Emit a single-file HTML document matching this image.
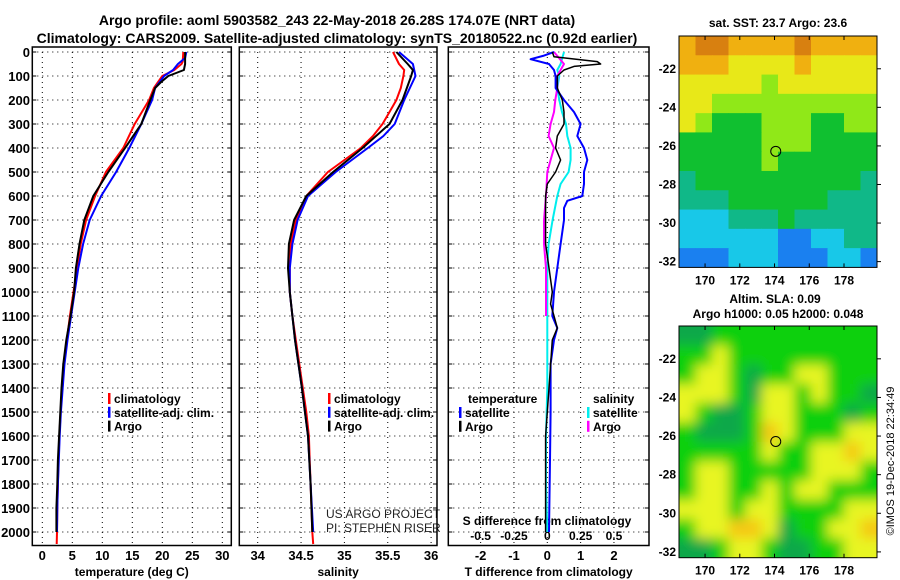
<!DOCTYPE html>
<html><head><meta charset="utf-8"><style>
html,body{margin:0;padding:0;background:#fff;}
svg{display:block;font-family:"Liberation Sans",sans-serif;}
</style></head><body>
<svg id="c" width="900" height="580" viewBox="0 0 900 580">
<defs>
<filter id="blurf" filterUnits="userSpaceOnUse" x="660" y="300" width="240" height="280"><feGaussianBlur stdDeviation="6"/></filter>
</defs>
<text x="337" y="25" text-anchor="middle" font-size="14" font-weight="bold">Argo profile: aoml 5903582_243 22-May-2018 26.28S 174.07E (NRT data)</text>
<text x="337" y="43" text-anchor="middle" font-size="14" font-weight="bold">Climatology: CARS2009. Satellite-adjusted climatology: synTS_20180522.nc (0.92d earlier)</text>
<text x="778" y="27" text-anchor="middle" font-size="12" font-weight="bold">sat. SST: 23.7 Argo: 23.6</text>
<text x="775" y="303" text-anchor="middle" font-size="12" font-weight="bold">Altim. SLA: 0.09</text>
<text x="778" y="318" text-anchor="middle" font-size="12" font-weight="bold">Argo h1000: 0.05 h2000: 0.048</text>
<text transform="translate(894,461) rotate(-90)" text-anchor="middle" font-size="11">©IMOS 19-Dec-2018 22:34:49</text>
<text x="326" y="518" font-size="12" fill="#222">US ARGO PROJECT</text>
<text x="326" y="532" font-size="12" fill="#222">PI: STEPHEN RISER</text>
</svg>
<script>
const depthTicks=[0,100,200,300,400,500,600,700,800,900,1000,1100,1200,1300,1400,1500,1600,1700,1800,1900,2000];
const tempTicks=[0,5,10,15,20,25,30];
const salTicks=[34,34.5,35,35.5,36];
const diffTTicks=[-2,-1,0,1,2];
const diffSTicks=[-0.5,-0.25,0,0.25,0.5];
const diffSTickLabels=["-0.5","-0.25","0","0.25","0.5"];
// temperature profiles
const tClimD=[0,40,50,75,100,150,200,300,400,500,600,700,800,900,1000,1100,1200,1300,1400,1500,1600,1700,1800,1900,2000,2050];
const tClimV=[23.5,23.4,23.2,22,20,18.6,17.8,15.4,13.5,10.6,8.8,7.3,6.4,5.8,5.2,4.6,4.1,3.6,3.3,3.05,2.85,2.7,2.6,2.5,2.45,2.4];
const tSatD=[0,25,50,75,100,150,200,300,400,500,600,700,800,900,1000,1100,1200,1300,1400,1500,1600,1700,1800,1900,2000];
const tSatV=[24,23.8,22.6,21.8,20.3,18.8,18.3,16.5,14.5,12.3,9.8,7.9,6.8,6.0,5.4,4.8,4.2,3.7,3.4,3.1,2.9,2.75,2.6,2.5,2.45];
const tArgoD=[0,25,50,75,100,125,150,200,300,400,500,600,700,800,900,1000,1100,1200,1300,1400,1500,1600,1700,1800,1900,2000];
const tArgoV=[23.8,23.8,23.8,23.6,21,19.8,18.8,18,16.5,13.8,11,8.5,7.0,6.2,5.6,5.3,4.7,4.0,3.5,3.2,3.0,2.8,2.6,2.5,2.35,2.35];
// salinity profiles
const sClimD=[0,50,75,100,150,200,250,300,350,400,500,600,700,800,900,1000,1100,1200,1300,1400,1500,1600,1700,1800,1900,2000,2050];
const sClimV=[35.56,35.63,35.69,35.68,35.65,35.6,35.52,35.44,35.33,35.19,34.81,34.56,34.44,34.38,34.37,34.37,34.4,34.44,34.48,34.52,34.56,34.59,34.6,34.61,34.62,34.63,34.64];
const sSatD=[0,25,50,100,200,300,350,400,500,600,700,800,900,1000,1200,1400,1600,1800,2000];
const sSatV=[35.63,35.71,35.79,35.82,35.69,35.58,35.45,35.27,34.9,34.58,34.46,34.4,34.37,34.37,34.43,34.51,34.58,34.61,34.64];
const sArgoD=[0,50,75,100,200,300,400,500,600,700,800,900,1000,1200,1400,1600,1800,2000];
const sArgoV=[35.6,35.73,35.79,35.77,35.67,35.52,35.21,34.87,34.56,34.42,34.36,34.35,34.37,34.43,34.51,34.58,34.61,34.63];
// difference profiles
const dTSatD=[0,15,30,50,75,100,150,200,250,300,350,400,450,500,550,600,620,650,700,800,900,1000,1100,1150,1200,1300,1500,1700,2000];
const dTSatV=[0.2,-0.1,-0.5,0.05,0.2,0.25,0.25,0.5,0.8,1.0,0.9,1.1,1.2,1.1,1.1,1.05,0.6,0.5,0.5,0.4,0.3,0.2,0.15,0.3,0.2,0.1,0.1,0.08,0.05];
const dTArgoD=[0,20,40,50,60,75,100,150,200,250,300,350,400,450,500,550,600,700,800,900,1000,1050,1100,1150,1200,1400,1600,1800,2000];
const dTArgoV=[0.15,0.2,1.5,1.6,0.8,0.5,0.3,0.3,0.45,0.5,0.5,0.3,0.25,0.4,0.25,0,-0.05,-0.05,-0.05,0.05,0.15,0.1,0.2,0.3,0.15,0.05,-0.05,-0.05,-0.05];
const dSSatD=[0,50,75,100,150,200,250,300,350,400,450,500,550,600,700,800,900,1000,1200,1400,1600,1800,2000];
const dSSatV=[0.125,0.1,0.075,0.09,0.075,0.09,0.11,0.14,0.15,0.175,0.175,0.16,0.1,0.075,0.04,0.01,0,0,0,0,-0.01,-0.01,0];
const dSArgoD=[0,50,75,100,150,200,250,300,350,400,450,500,600,700,800,900,1000,1100];
const dSArgoV=[0.05,0.125,0.1,0.075,0.075,0.06,0.05,0.025,0.01,0.05,0.025,0,-0.01,-0.025,-0.025,-0.01,-0.01,-0.01];
// maps
const lonTicks=[170,172,174,176,178];
const latTicks=[-22,-24,-26,-28,-30,-32];
const sstGrid=[
[7,8,8,7,7,7,7,8,7,7,7,7],
[7,7,7,6,6,6,6,7,6,6,6,6],
[6,6,6,6,6,5,6,6,6,6,6,6],
[6,6,5,5,5,5,5,5,5,5,5,5],
[6,5,4,4,4,5,5,5,4,4,5,5],
[4,4,4,4,4,5,5,5,4,4,4,4],
[4,4,4,4,4,5,4,4,4,4,4,4],
[3,4,4,4,4,4,4,4,4,4,4,3],
[3,3,3,4,4,4,4,4,4,3,3,3],
[2,2,2,3,3,3,4,3,3,3,3,3],
[2,2,2,2,2,2,1,1,2,2,3,3],
[1,1,1,2,2,2,1,1,1,2,2,1]];
const slaGrid=[
[-1,-1,0,0,0,0,0,0,0,0,0,0],
[0,0,1,0,0,0,0,0,0,0,0,0],
[0,1,1,0,-1,0,0,1,1,0,0,0],
[1,1,1,0,-1,1,1,0,1,0,0,-1],
[1,0,-1,-1,0,1,1,0,0,0,-1,0],
[0,-1,-1,-1,0,2,1,0,0,0,1,1],
[0,0,0,0,0,1,0,0,1,1,2,1],
[0,1,1,0,0,0,0,0,1,1,1,0],
[0,1,1,0,0,1,0,1,1,0,0,0],
[1,1,1,0,1,1,0,0,0,0,1,1],
[0,1,1,2,2,1,-1,0,0,1,1,2],
[-1,-1,0,1,1,0,-1,-1,0,0,1,1]];
const argoLon=174.07, argoLat=-26.28;

const svg=document.getElementById('c');
const NS='http://www.w3.org/2000/svg';
function mk(tag,attrs,parent){const e=document.createElementNS(NS,tag);for(const k in attrs)e.setAttribute(k,attrs[k]);(parent||svg).appendChild(e);return e;}
const y0=52, yPer=0.24;
const yD=d=>y0+d*yPer;
const PB=545.5;

function panel(name,L,R,xs,ticks,labels,xlabel){
  const g=mk('g',{});
  
  
  depthTicks.forEach(d=>{
    const gl=mk('line',{x1:L,x2:R,y1:yD(d),y2:yD(d),stroke:'#000','stroke-width':1,'stroke-dasharray':'1,4'},g);
    
    
    mk('line',{x1:L,x2:L+4,y1:yD(d),y2:yD(d),stroke:'#000'},g);
    mk('line',{x1:R-4,x2:R,y1:yD(d),y2:yD(d),stroke:'#000'},g);
  });
  ticks.forEach((t,i)=>{
    const x=xs(t);
    const gl=mk('line',{x1:x,x2:x,y1:52,y2:PB,stroke:'#000','stroke-width':1,'stroke-dasharray':'1,4'},g);
    
    
    const tl=mk('text',{x:x,y:560,'text-anchor':'middle','font-size':13,'font-weight':'bold'},g);
    tl.textContent=labels[i];
    
    
  });
  const xl=mk('text',{x:(L+R)/2,y:576,'text-anchor':'middle','font-size':12,'font-weight':'bold'},g);
  xl.textContent=xlabel;
  
  
  const fr=mk('rect',{x:L,y:47,width:R-L,height:PB-47,fill:'none',stroke:'#000','stroke-width':1.5},g);
  
  
  return g;
}
function line(g,D,V,xs,color,name,w){
  const p=D.map((d,i)=>xs(V[i]).toFixed(1)+','+yD(d).toFixed(1)).join(' ');
  const e=mk('polyline',{points:p,fill:'none',stroke:color,'stroke-width':w||2,'stroke-linejoin':'round'},g);
  
  
}
function legend(g,x,y,items){
  items.forEach((it,i)=>{
    mk('rect',{x:x,y:y+i*13.8-10,width:2.5,height:11,fill:it[1]},g);
    const t=mk('text',{x:x+6,y:y+i*13.8,'font-size':12,'font-weight':'bold'},g);
    t.textContent=it[0];
    
    
  });
}
depthTicks.forEach(d=>{
  const t=mk('text',{x:30,y:yD(d)+5,'text-anchor':'end','font-size':13,'font-weight':'bold'});
  t.textContent=d;
  
  
});
// panel 1 temperature
const xT=t=>42.3+t*6;
const g1=panel('temperature-panel',32.3,231.3,xT,tempTicks,tempTicks.map(String),'temperature (deg C)');
line(g1,tClimD,tClimV,xT,'#f00','temp-climatology-line');
line(g1,tSatD,tSatV,xT,'#00f','temp-satellite-line');
line(g1,tArgoD,tArgoV,xT,'#000','temp-argo-line');
legend(g1,108,403,[['climatology','#f00'],['satellite-adj. clim.','#00f'],['Argo','#000']]);
// panel 2 salinity
const xS=s=>257.7+(s-34)*86.7;
const g2=panel('salinity-panel',239.3,437,xS,salTicks,['34','34.5','35','35.5','36'],'salinity');
line(g2,sClimD,sClimV,xS,'#f00','sal-climatology-line');
line(g2,sSatD,sSatV,xS,'#00f','sal-satellite-line');
line(g2,sArgoD,sArgoV,xS,'#000','sal-argo-line');
legend(g2,328,403,[['climatology','#f00'],['satellite-adj. clim.','#00f'],['Argo','#000']]);
// panel 3 differences
const xDT=t=>547.3+t*33.33;
const xDS=s=>547.3+s*133.33;
const g3=panel('difference-panel',448.3,649,xDT,diffTTicks,diffTTicks.map(String),'T difference from climatology');
diffSTicks.forEach((s,i)=>{
  const t=mk('text',{x:xDS(s),y:540,'text-anchor':'middle','font-size':12,'font-weight':'bold'},g3);
  t.textContent=diffSTickLabels[i];
  
  
});
const st=mk('text',{x:547,y:525,'text-anchor':'middle','font-size':12,'font-weight':'bold'},g3);
st.textContent='S difference from climatology';


line(g3,dSSatD,dSSatV,xDS,'#0ee','s-diff-satellite-line');
line(g3,dSArgoD,dSArgoV,xDS,'#f0f','s-diff-argo-line');
line(g3,dTSatD,dTSatV,xDT,'#00f','t-diff-satellite-line');
line(g3,dTArgoD,dTArgoV,xDT,'#000','t-diff-argo-line',1.5);
const h1=mk('text',{x:468,y:403,'font-size':12,'font-weight':'bold'},g3);h1.textContent='temperature';


const h2=mk('text',{x:593,y:403,'font-size':12,'font-weight':'bold'},g3);h2.textContent='salinity';


legend(g3,459,417,[['satellite','#00f'],['Argo','#000']]);
legend(g3,587,417,[['satellite','#0ee'],['Argo','#f0f']]);

// maps
const sstColors=['#0a3fd0','#1a80f0','#18c8e8','#10b888','#10c030','#90e818','#e8e818','#f0b010','#d88010'];
const lonL=168.5,lonR=179.9,latT=-20.3,latB=-32.3;
function map(name,top,bottom,grid,colorFn,blur){
  const L=679,R=877,B=bottom;
  const xL=lon=>L+(lon-lonL)*(R-L)/(lonR-lonL);
  const yL=lat=>top+(latT-lat)*(B-top)/(latT-latB);
  const g=mk('g',{});
  
  
  const cp=mk('clipPath',{id:name+'-clip'},g);
  mk('rect',{x:L,y:top,width:R-L,height:B-top},cp);
  const inner=mk('g',{'clip-path':'url(#'+name+'-clip)'},g);
  const cells=mk('g',blur?{filter:'url(#blurf)'}:{},inner);
  const nr=grid.length,nc=grid[0].length,cw=(R-L)/nc,ch=(B-top)/nr;
  const pad=blur?1:0;
  for(let r=-pad;r<nr+pad;r++)for(let c=-pad;c<nc+pad;c++){
    const rr=Math.min(nr-1,Math.max(0,r)),cc=Math.min(nc-1,Math.max(0,c));
    const e=mk('rect',{x:L+c*cw,y:top+r*ch,width:cw+0.5,height:ch+0.5,fill:colorFn(grid[rr][cc])},cells);
    
    
  }
  const m=mk('circle',{cx:xL(argoLon),cy:yL(argoLat),r:5,fill:'none',stroke:'#000','stroke-width':1},g);
  
  
  mk('rect',{x:L,y:top,width:R-L,height:B-top,fill:'none',stroke:'#000','stroke-width':1},g);
  lonTicks.forEach(lo=>{
    mk('line',{x1:xL(lo),x2:xL(lo),y1:top,y2:top+4,stroke:'#000'},g);
    mk('line',{x1:xL(lo),x2:xL(lo),y1:B-4,y2:B,stroke:'#000'},g);
    const t=mk('text',{x:xL(lo),y:B+17,'text-anchor':'middle','font-size':12,'font-weight':'bold'},g);
    t.textContent=lo;
    
    
  });
  latTicks.forEach(la=>{
    mk('line',{x1:R,x2:R+4,y1:yL(la),y2:yL(la),stroke:'#000'},g);
    const t=mk('text',{x:676,y:yL(la)+4,'text-anchor':'end','font-size':12,'font-weight':'bold'},g);
    t.textContent=la;
    
    
  });
}
map('sst-map',36,267.4,sstGrid,v=>sstColors[v],false);
const slaColors={'-1':'#10a848','0':'#10d010','1':'#e8f520','2':'#f5c818'};
map('sla-map',326,557.7,slaGrid,v=>slaColors[v],true);
</script>
</body></html>
